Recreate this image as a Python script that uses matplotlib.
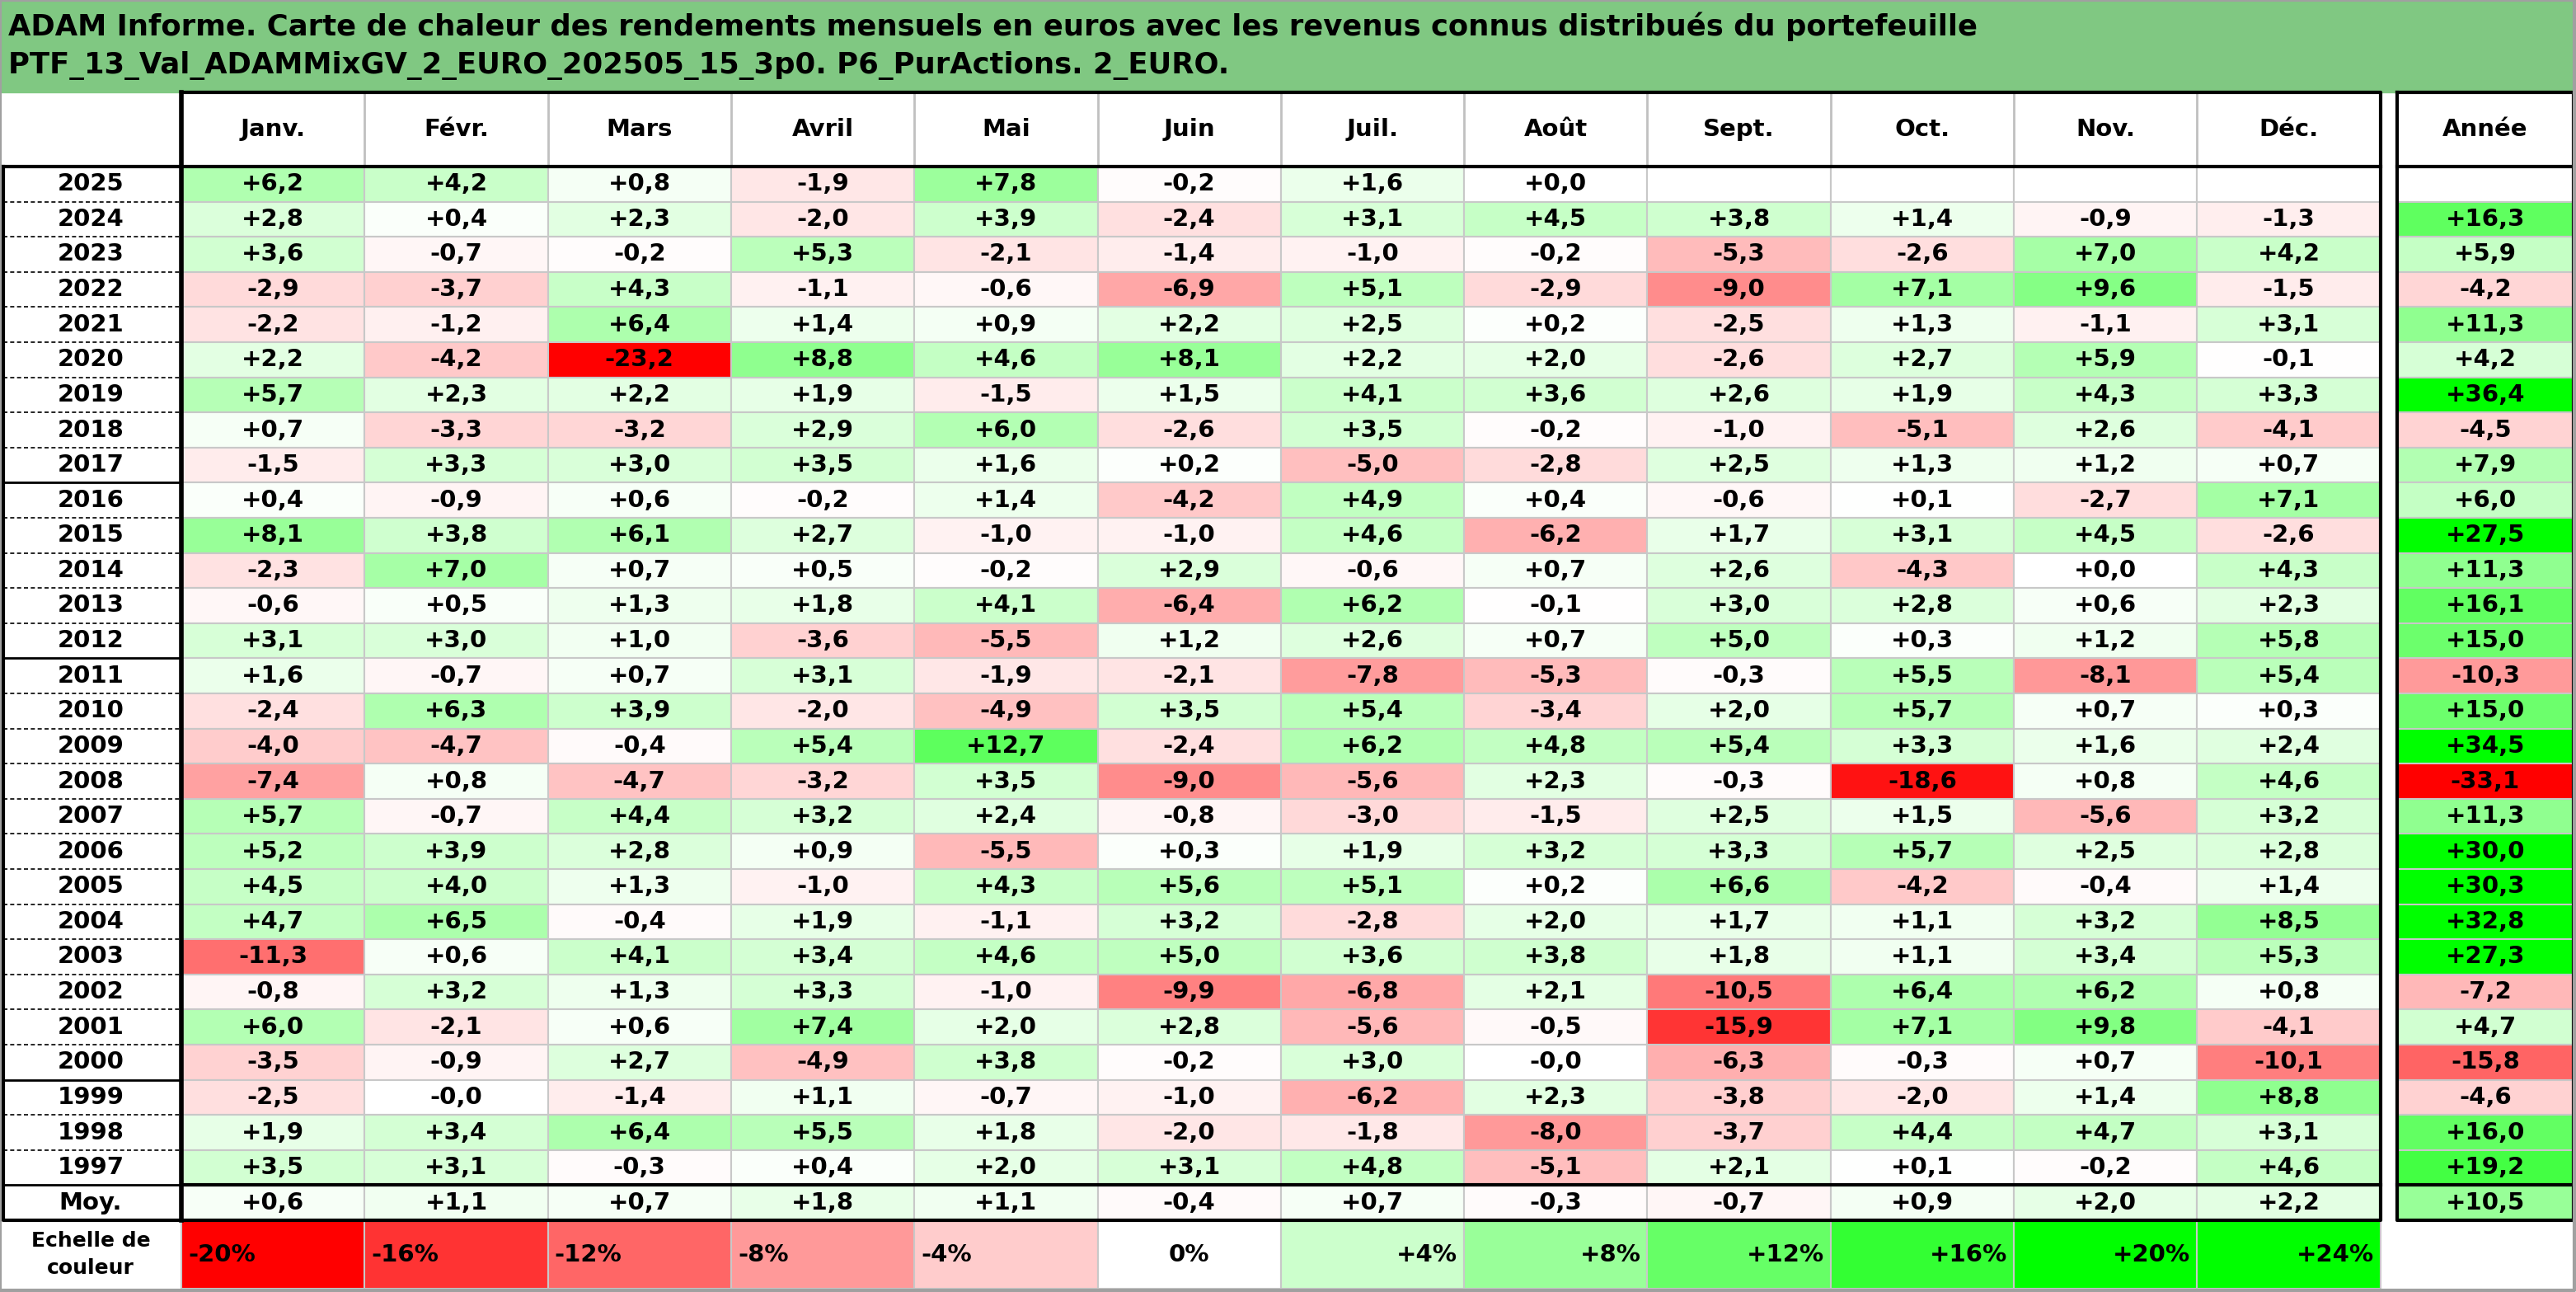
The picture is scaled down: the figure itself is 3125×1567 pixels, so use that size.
import numpy as np
import matplotlib
matplotlib.use("Agg")
import matplotlib.pyplot as plt
from matplotlib.patches import Rectangle

TITLE = ("ADAM Informe. Carte de chaleur des rendements mensuels en euros avec les revenus connus distribués du portefeuille\n"
         "PTF_13_Val_ADAMMixGV_2_EURO_202505_15_3p0. P6_PurActions. 2_EURO.")
months = ["Janv.", "Févr.", "Mars", "Avril", "Mai", "Juin", "Juil.", "Août", "Sept.", "Oct.", "Nov.", "Déc."]
years = list(range(2025, 1996, -1))
nan = np.nan
monthly = [
    [6.2, 4.2, 0.8, -1.9, 7.8, -0.2, 1.6, 0.0, nan, nan, nan, nan],
    [2.8, 0.4, 2.3, -2.0, 3.9, -2.4, 3.1, 4.5, 3.8, 1.4, -0.9, -1.3],
    [3.6, -0.7, -0.2, 5.3, -2.1, -1.4, -1.0, -0.2, -5.3, -2.6, 7.0, 4.2],
    [-2.9, -3.7, 4.3, -1.1, -0.6, -6.9, 5.1, -2.9, -9.0, 7.1, 9.6, -1.5],
    [-2.2, -1.2, 6.4, 1.4, 0.9, 2.2, 2.5, 0.2, -2.5, 1.3, -1.1, 3.1],
    [2.2, -4.2, -23.2, 8.8, 4.6, 8.1, 2.2, 2.0, -2.6, 2.7, 5.9, -0.1],
    [5.7, 2.3, 2.2, 1.9, -1.5, 1.5, 4.1, 3.6, 2.6, 1.9, 4.3, 3.3],
    [0.7, -3.3, -3.2, 2.9, 6.0, -2.6, 3.5, -0.2, -1.0, -5.1, 2.6, -4.1],
    [-1.5, 3.3, 3.0, 3.5, 1.6, 0.2, -5.0, -2.8, 2.5, 1.3, 1.2, 0.7],
    [0.4, -0.9, 0.6, -0.2, 1.4, -4.2, 4.9, 0.4, -0.6, 0.1, -2.7, 7.1],
    [8.1, 3.8, 6.1, 2.7, -1.0, -1.0, 4.6, -6.2, 1.7, 3.1, 4.5, -2.6],
    [-2.3, 7.0, 0.7, 0.5, -0.2, 2.9, -0.6, 0.7, 2.6, -4.3, 0.0, 4.3],
    [-0.6, 0.5, 1.3, 1.8, 4.1, -6.4, 6.2, -0.1, 3.0, 2.8, 0.6, 2.3],
    [3.1, 3.0, 1.0, -3.6, -5.5, 1.2, 2.6, 0.7, 5.0, 0.3, 1.2, 5.8],
    [1.6, -0.7, 0.7, 3.1, -1.9, -2.1, -7.8, -5.3, -0.3, 5.5, -8.1, 5.4],
    [-2.4, 6.3, 3.9, -2.0, -4.9, 3.5, 5.4, -3.4, 2.0, 5.7, 0.7, 0.3],
    [-4.0, -4.7, -0.4, 5.4, 12.7, -2.4, 6.2, 4.8, 5.4, 3.3, 1.6, 2.4],
    [-7.4, 0.8, -4.7, -3.2, 3.5, -9.0, -5.6, 2.3, -0.3, -18.6, 0.8, 4.6],
    [5.7, -0.7, 4.4, 3.2, 2.4, -0.8, -3.0, -1.5, 2.5, 1.5, -5.6, 3.2],
    [5.2, 3.9, 2.8, 0.9, -5.5, 0.3, 1.9, 3.2, 3.3, 5.7, 2.5, 2.8],
    [4.5, 4.0, 1.3, -1.0, 4.3, 5.6, 5.1, 0.2, 6.6, -4.2, -0.4, 1.4],
    [4.7, 6.5, -0.4, 1.9, -1.1, 3.2, -2.8, 2.0, 1.7, 1.1, 3.2, 8.5],
    [-11.3, 0.6, 4.1, 3.4, 4.6, 5.0, 3.6, 3.8, 1.8, 1.1, 3.4, 5.3],
    [-0.8, 3.2, 1.3, 3.3, -1.0, -9.9, -6.8, 2.1, -10.5, 6.4, 6.2, 0.8],
    [6.0, -2.1, 0.6, 7.4, 2.0, 2.8, -5.6, -0.5, -15.9, 7.1, 9.8, -4.1],
    [-3.5, -0.9, 2.7, -4.9, 3.8, -0.2, 3.0, -0.0, -6.3, -0.3, 0.7, -10.1],
    [-2.5, -0.0, -1.4, 1.1, -0.7, -1.0, -6.2, 2.3, -3.8, -2.0, 1.4, 8.8],
    [1.9, 3.4, 6.4, 5.5, 1.8, -2.0, -1.8, -8.0, -3.7, 4.4, 4.7, 3.1],
    [3.5, 3.1, -0.3, 0.4, 2.0, 3.1, 4.8, -5.1, 2.1, 0.1, -0.2, 4.6],
]
annual = [nan, 16.3, 5.9, -4.2, 11.3, 4.2, 36.4, -4.5, 7.9, 6.0, 27.5, 11.3, 16.1, 15.0,
          -10.3, 15.0, 34.5, -33.1, 11.3, 30.0, 30.3, 32.8, 27.3, -7.2, 4.7, -15.8, -4.6, 16.0, 19.2]
avg_month = [0.6, 1.1, 0.7, 1.8, 1.1, -0.4, 0.7, -0.3, -0.7, 0.9, 2.0, 2.2]
avg_year = 10.5
scale_vals = [-20, -16, -12, -8, -4, 0, 4, 8, 12, 16, 20, 24]


def heat(v, k=1.0):
    if np.isnan(v):
        return "white"
    t = min(abs(v) / k / 20.0, 1.0)
    c = 1.0 - t
    return (1.0, c, c) if v < 0 else (c, 1.0, c)


def fmt(v):
    s = f"{v:+.1f}".replace(".", ",")
    if s == "+0,0" and np.signbit(v):
        s = "-0,0"
    return s


W, H = 3125, 1567
fig = plt.figure(figsize=(W / 100, H / 100), dpi=100)
ax = fig.add_axes([0, 0, 1, 1])
ax.set_xlim(0, W)
ax.set_ylim(H, 0)
ax.axis("off")

FONT = dict(family="DejaVu Sans", fontweight="bold", fontsize=21)
title_h = 112
head_y0, head_y1 = title_h, 202
row_h = 42.6
x0, cw = 220, 222.3
xa0, xa1 = 2908, 3122

ax.add_patch(Rectangle((0, 0), W, title_h, color="#80c882", zorder=0))
ax.text(10, title_h / 2, TITLE, va="center", ha="left", family="DejaVu Sans",
        fontweight="bold", fontsize=25.5, linespacing=1.45)

# header
for j, m in enumerate(months):
    ax.text(x0 + cw * (j + 0.5), (head_y0 + head_y1) / 2, m, ha="center", va="center", **FONT)
    ax.plot([x0 + cw * j] * 2, [head_y0, head_y1], color="#c0c0c0", lw=2)
ax.text((xa0 + xa1) / 2, (head_y0 + head_y1) / 2, "Année", ha="center", va="center", **FONT)

# rows
ys = [head_y1 + row_h * i for i in range(len(years) + 1)]
for i, yr in enumerate(years + ["Moy."]):
    y = ys[i]
    vals = monthly[i] if i < len(years) else avg_month
    av = annual[i] if i < len(years) else avg_year
    ax.text(x0 / 2, y + row_h / 2, str(yr), ha="center", va="center", **FONT)
    for j, v in enumerate(vals):
        ax.add_patch(Rectangle((x0 + cw * j, y), cw, row_h, facecolor=heat(v),
                               edgecolor="#c8c8c8", lw=1.5))
        if not np.isnan(v):
            ax.text(x0 + cw * (j + 0.5), y + row_h / 2, fmt(v), ha="center", va="center", **FONT)
    ax.add_patch(Rectangle((xa0, y), xa1 - xa0, row_h, facecolor=heat(av, 1.3),
                           edgecolor="#c8c8c8", lw=1.5))
    if not np.isnan(av):
        ax.text((xa0 + xa1) / 2, y + row_h / 2, fmt(av), ha="center", va="center", **FONT)
    if i > 0:
        solid = yr in (2016, 2011, 1999, "Moy.")
        ax.plot([4, x0], [y, y], color="black", lw=2 if solid else 1.2,
                ls="-" if solid else (0, (3, 2)))

y_end = ys[-1] + row_h
x_end = x0 + cw * 12
# borders
for xs, xe in [(x0, x_end), (xa0, xa1)]:
    ax.plot([xs, xe, xe, xs, xs], [head_y0, head_y0, y_end, y_end, head_y0], color="black", lw=3)
    ax.plot([xs, xe], [head_y1, head_y1], color="black", lw=3)
    ax.plot([xs, xe], [ys[-1], ys[-1]], color="black", lw=3)
ax.plot([4, 4, x0], [head_y1, y_end, y_end], color="black", lw=3)
ax.plot([4, x0], [head_y1, head_y1], color="black", lw=3)
ax.plot([x0, x0], [head_y0, y_end], color="black", lw=4)

# colour scale row
ys0 = y_end
sh = H - ys0 - 4
ax.text(x0 / 2, ys0 + sh / 2, "Echelle de\ncouleur", ha="center", va="center",
        family="DejaVu Sans", fontweight="bold", fontsize=18, linespacing=1.5)
for j, v in enumerate(scale_vals):
    ax.add_patch(Rectangle((x0 + cw * j, ys0), cw, sh, facecolor=heat(v),
                           edgecolor="#c8c8c8", lw=1.5))
    lab = "0%" if v == 0 else f"{v:+d}%"
    if v < 0:
        ax.text(x0 + cw * j + 8, ys0 + sh / 2, lab, ha="left", va="center", **FONT)
    elif v == 0:
        ax.text(x0 + cw * (j + 0.5), ys0 + sh / 2, lab, ha="center", va="center", **FONT)
    else:
        ax.text(x0 + cw * (j + 1) - 8, ys0 + sh / 2, lab, ha="right", va="center", **FONT)
ax.plot([0, W - 2, W - 2, 0, 0], [0, 0, H - 2, H - 2, 0], color="#a0a0a0", lw=3)

fig.savefig("out.png", dpi=100)
